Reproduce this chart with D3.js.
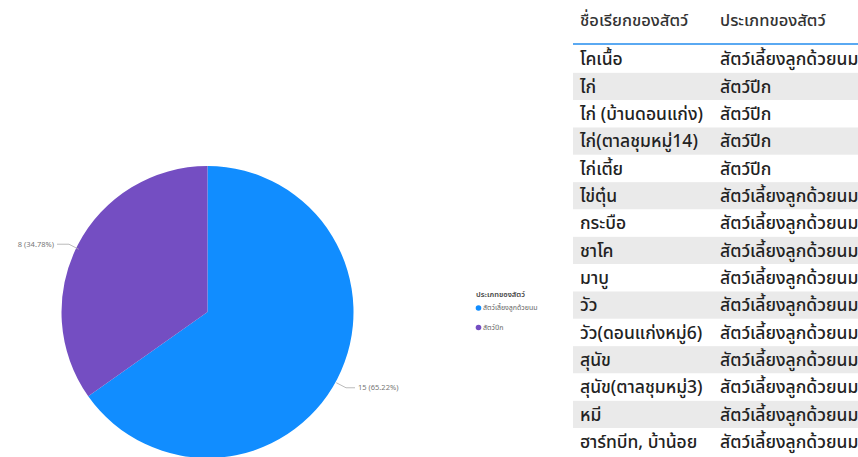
<!DOCTYPE html>
<html><head><meta charset="utf-8">
<script src="https://cdn.jsdelivr.net/npm/d3@7"></script>
<style>
html,body{margin:0;padding:0;background:#fff;}
svg{display:block;font-family:"Noto Sans","Noto Sans Thai","Segoe UI",sans-serif;}
</style></head>
<body>
<svg id="chart" width="858" height="457"></svg>
<script>
const categories = ["สัตว์เลี้ยงลูกด้วยนม", "สัตว์ปีก"];
const values = [15, 8];
const colors = ["#118DFF", "#744EC2"];
const legendTitle = "ประเภทของสัตว์";
const tableHeaders = ["ชื่อเรียกของสัตว์", "ประเภทของสัตว์"];
const animalNames = ["โคเนื้อ","ไก่","ไก่ (บ้านดอนแก่ง)","ไก่(ตาลชุมหมู่14)","ไก่เตี้ย","ไข่ตุ๋น","กระบือ","ชาโค","มาบู","วัว","วัว(ดอนแก่งหมู่6)","สุนัข","สุนัข(ตาลชุมหมู่3)","หมี","ฮาร์ทบีท, บ้าน้อย"];
const animalTypes = ["สัตว์เลี้ยงลูกด้วยนม","สัตว์ปีก","สัตว์ปีก","สัตว์ปีก","สัตว์ปีก","สัตว์เลี้ยงลูกด้วยนม","สัตว์เลี้ยงลูกด้วยนม","สัตว์เลี้ยงลูกด้วยนม","สัตว์เลี้ยงลูกด้วยนม","สัตว์เลี้ยงลูกด้วยนม","สัตว์เลี้ยงลูกด้วยนม","สัตว์เลี้ยงลูกด้วยนม","สัตว์เลี้ยงลูกด้วยนม","สัตว์เลี้ยงลูกด้วยนม","สัตว์เลี้ยงลูกด้วยนม"];

const svg = d3.select("#chart");
const cx = 207.5, cy = 312, r = 146;
const color = d3.scaleOrdinal().domain(categories).range(colors);
const total = d3.sum(values);
const pie = d3.pie().sort(null).value(d => d.v);
const data = pie(categories.map((c, i) => ({c, v: values[i]})));
const arc = d3.arc().innerRadius(0).outerRadius(r);
const g = svg.append("g").attr("transform", `translate(${cx},${cy})`);
g.selectAll("path.slice").data(data).join("path")
  .attr("d", arc).attr("fill", d => color(d.data.c));

// labels
data.forEach(d => {
  const a = (d.startAngle + d.endAngle) / 2;
  const p0 = [Math.sin(a) * (r - 1), -Math.cos(a) * (r - 1) + 4];
  const p1 = [Math.sin(a) * (r + 10), -Math.cos(a) * (r + 10) + 4];
  const right = Math.sin(a) > 0;
  const p2 = [p1[0] + (right ? 9 : -12), p1[1]];
  g.append("polyline").attr("points", [p0, p1, p2].map(p => p.join(",")).join(" "))
    .attr("fill", "none").attr("stroke", "#aaa").attr("stroke-width", 0.8);
  g.append("text").attr("x", p2[0] + (right ? 3 : -3)).attr("y", p2[1])
    .attr("dy", "0.35em").attr("text-anchor", right ? "start" : "end")
    .attr("font-size", 7.5).attr("fill", "#777")
    .text(`${d.data.v} (${(d.data.v / total * 100).toFixed(2)}%)`);
});

// legend
const lg = svg.append("g").attr("transform", "translate(476,0)");
lg.append("text").attr("x", 0).attr("y", 297).attr("font-size", 7.5).attr("font-weight", 600).attr("fill", "#444").text(legendTitle);
categories.forEach((c, i) => {
  const y = 308 + i * 19.5;
  lg.append("circle").attr("cx", 2.5).attr("cy", y).attr("r", 2.8).attr("fill", color(c));
  lg.append("text").attr("x", 7).attr("y", y).attr("dy", "0.35em").attr("font-size", 7).attr("fill", "#666").text(c);
});

// table
const tx = 573, col1 = 580, col2 = 720;
const rowY = d3.scaleBand().domain(d3.range(animalNames.length)).range([45.5, 455.5]);
const tg = svg.append("g");
tg.selectAll("rect.row").data(animalNames).join("rect")
  .attr("x", tx).attr("y", (d, i) => rowY(i)).attr("width", 858 - tx).attr("height", rowY.bandwidth())
  .attr("fill", (d, i) => i % 2 === 1 ? "#eaeaea" : "#fff");
tg.append("line").attr("x1", tx).attr("x2", 858).attr("y1", 44).attr("y2", 44)
  .attr("stroke", "#5aa9f2").attr("stroke-width", 2);
[col1, col2].forEach((x, j) => {
  tg.append("text").attr("x", x).attr("y", 26).attr("font-size", 16.5).attr("font-weight", 500).attr("fill", "#333").text(tableHeaders[j]);
});
tg.selectAll("text.n").data(animalNames).join("text").attr("class", "n")
  .attr("x", col1).attr("y", (d, i) => rowY(i) + rowY.bandwidth() / 2).attr("dy", "0.35em")
  .attr("font-size", 17.5).attr("font-weight", 500).attr("fill", "#222").text(d => d);
tg.selectAll("text.t").data(animalTypes).join("text").attr("class", "t")
  .attr("x", col2).attr("y", (d, i) => rowY(i) + rowY.bandwidth() / 2).attr("dy", "0.35em")
  .attr("font-size", 17.5).attr("font-weight", 500).attr("fill", "#222").text(d => d);
</script>
</body></html>
